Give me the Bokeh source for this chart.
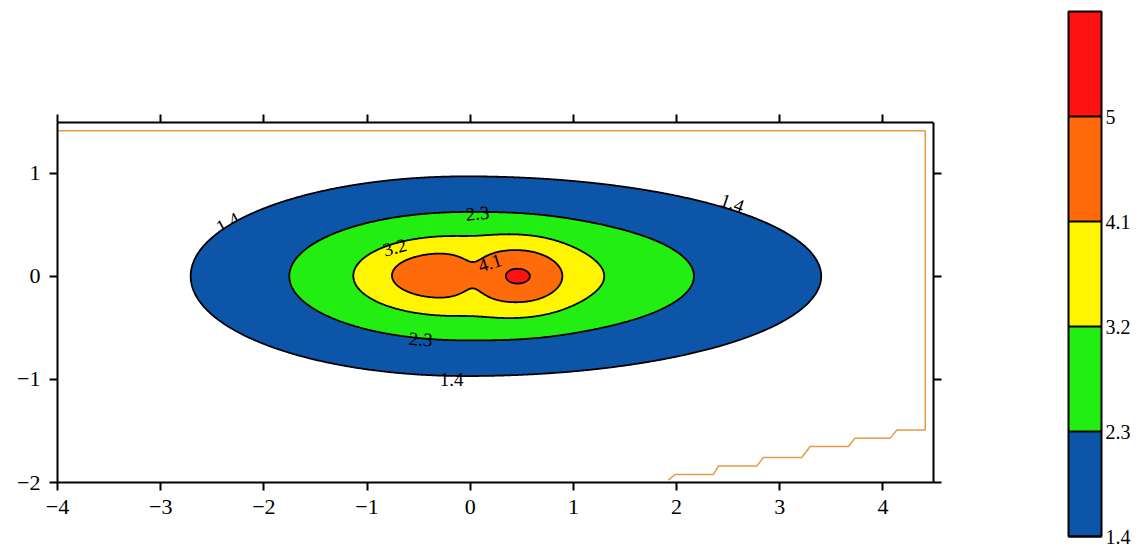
import numpy as np
from bokeh.plotting import figure
from bokeh.models import (LinearAxis, FixedTicker, Range1d, ColumnDataSource,
                          ColorBar, LinearColorMapper)
from bokeh.embed import file_html
from bokeh.resources import INLINE
from bokeh.core.properties import value

# ---- contour levels / colours ----
levels = [1.4, 2.3, 3.2, 4.1, 5.0, 5.9]
level_labels = ["1.4", "2.3", "3.2", "4.1", "5"]
band_colors = ["#0C55A8", "#22EE12", "#FFF500", "#FF6A0A", "#FF1212"]

# ---- axis ticks ----
x_ticks = [-4, -3, -2, -1, 0, 1, 2, 3, 4]
x_tick_labels = ["\u22124", "\u22123", "\u22122", "\u22121", "0", "1", "2", "3", "4"]
y_ticks = [-2, -1, 0, 1]
y_tick_labels = ["\u22122", "\u22121", "0", "1"]

# ---- field model ----
core_center = [-0.04, 0.0]
core_peak = 3.95
core_scale_left = 2.675
core_scale_right = 3.449
core_scale_y = 0.97
core_c = 0.75
core_p = 2.1
# local bumps (two lobes and the waist between them)
bump_x = [-0.36, 0.52, 0.03]
bump_y = [0.01, 0.0, 0.0]
bump_amp = [1.0, 1.22, -0.64]
bump_sx = [0.37, 0.30, 0.15]
bump_sy = [0.18, 0.22, 0.16]

# ---- contour labels ----
lab_text = ["1.4", "1.4", "2.3", "3.2", "4.1", "2.3", "1.4"]
lab_x = [-2.35, 2.54, 0.07, -0.73, 0.19, -0.48, -0.18]
lab_y = [0.52, 0.71, 0.61, 0.28, 0.13, -0.61, -1.0]
lab_angle = [0.5, -0.33, 0.08, 0.26, 0.3, -0.08, 0.0]
lab_under = [True, True, False, False, False, False, False]

# ---- orange boundary trace ----
edge_x = [-4.0, 4.41, 4.41, 4.135, 4.07, 3.73, 3.665, 3.294, 3.213, 2.841, 2.777, 2.405, 2.357, 1.985, 1.92]
edge_y = [1.41, 1.41, -1.492, -1.492, -1.570, -1.570, -1.651, -1.651, -1.758, -1.758, -1.841, -1.841, -1.922, -1.922, -1.977]

# ---- build the field ----
gx = np.linspace(-4.0, 4.49, 850)
gy = np.linspace(-2.0, 1.49, 350)
X, Y = np.meshgrid(gx, gy)
dx = X - core_center[0]
k = np.where(dx < 0, core_scale_left, core_scale_right)
r = np.sqrt((dx / k) ** 2 + ((Y - core_center[1]) / core_scale_y) ** 2)
Z = core_peak / (1.0 + (r / core_c) ** core_p)
for bx, by, ba, sx, sy in zip(bump_x, bump_y, bump_amp, bump_sx, bump_sy):
    Z = Z + ba * np.exp(-0.5 * ((X - bx) / sx) ** 2 - 0.5 * ((Y - by) / sy) ** 2)

FONT = "Liberation Serif"

p = figure(width=1140, height=549,
           x_range=Range1d(-4, 4.49), y_range=Range1d(-2, 1.49),
           output_backend="svg", toolbar_location=None,
           min_border_left=57, min_border_right=207,
           min_border_top=122, min_border_bottom=67)
p.grid.visible = False
p.outline_line_color = None
p.background_fill_color = "white"
p.border_fill_color = "white"

p.add_layout(LinearAxis(), "above")
p.add_layout(LinearAxis(), "right")

for ax in p.xaxis:
    ax.ticker = FixedTicker(ticks=x_ticks)
    ax.major_label_overrides = {t: l for t, l in zip(x_ticks, x_tick_labels)}
for ax in p.yaxis:
    ax.ticker = FixedTicker(ticks=y_ticks)
    ax.major_label_overrides = {t: l for t, l in zip(y_ticks, y_tick_labels)}
for ax in list(p.xaxis) + list(p.yaxis):
    ax.axis_line_width = 2
    ax.axis_line_color = "black"
    ax.major_tick_line_width = 2
    ax.major_tick_line_color = "black"
    ax.major_tick_out = 8
    ax.major_tick_in = 0
    ax.minor_tick_line_color = None
    ax.major_label_text_font = FONT
    ax.major_label_text_font_size = "22px"
    ax.major_label_text_color = "black"
    ax.major_label_standoff = 9
p.above[0].major_label_overrides = {t: "" for t in x_ticks}
p.right[0].major_label_overrides = {t: "" for t in y_ticks}

p.line(edge_x, edge_y, line_color="#E59A45", line_width=1.5)

under = [i for i, u in enumerate(lab_under) if u]
over = [i for i, u in enumerate(lab_under) if not u]

def lab_src(idx):
    return ColumnDataSource(dict(x=[lab_x[i] for i in idx], y=[lab_y[i] for i in idx],
                                 text=[lab_text[i] for i in idx], angle=[lab_angle[i] for i in idx]))

p.text(x="x", y="y", text="text", angle="angle", source=lab_src(under),
       text_font=value(FONT), text_font_size="19px", text_color="black",
       text_align="center", text_baseline="middle")

p.contour(gx, gy, Z, levels, fill_color=band_colors, line_color="black", line_width=1.8)

p.text(x="x", y="y", text="text", angle="angle", source=lab_src(over),
       text_font=value(FONT), text_font_size="19px", text_color="black",
       text_align="center", text_baseline="middle")

# ---- colour bar ----
mapper = LinearColorMapper(palette=band_colors, low=levels[0], high=levels[-1])
cbar = ColorBar(color_mapper=mapper,
                ticker=FixedTicker(ticks=levels[:-1]),
                major_label_overrides={t: l for t, l in zip(levels[:-1], level_labels)},
                orientation="vertical", location=(1011, -54),
                width=33, height=525, padding=0,
                bar_line_color="black", bar_line_width=2,
                major_tick_line_color="black", major_tick_line_width=2,
                major_tick_in=33, major_tick_out=0,
                minor_tick_line_color=None,
                label_standoff=4,
                major_label_text_font=FONT, major_label_text_font_size="20px",
                major_label_text_color="black",
                background_fill_color=None, border_line_color=None)
p.add_layout(cbar, "center")

open("out.html", "w").write(file_html(p, INLINE))
